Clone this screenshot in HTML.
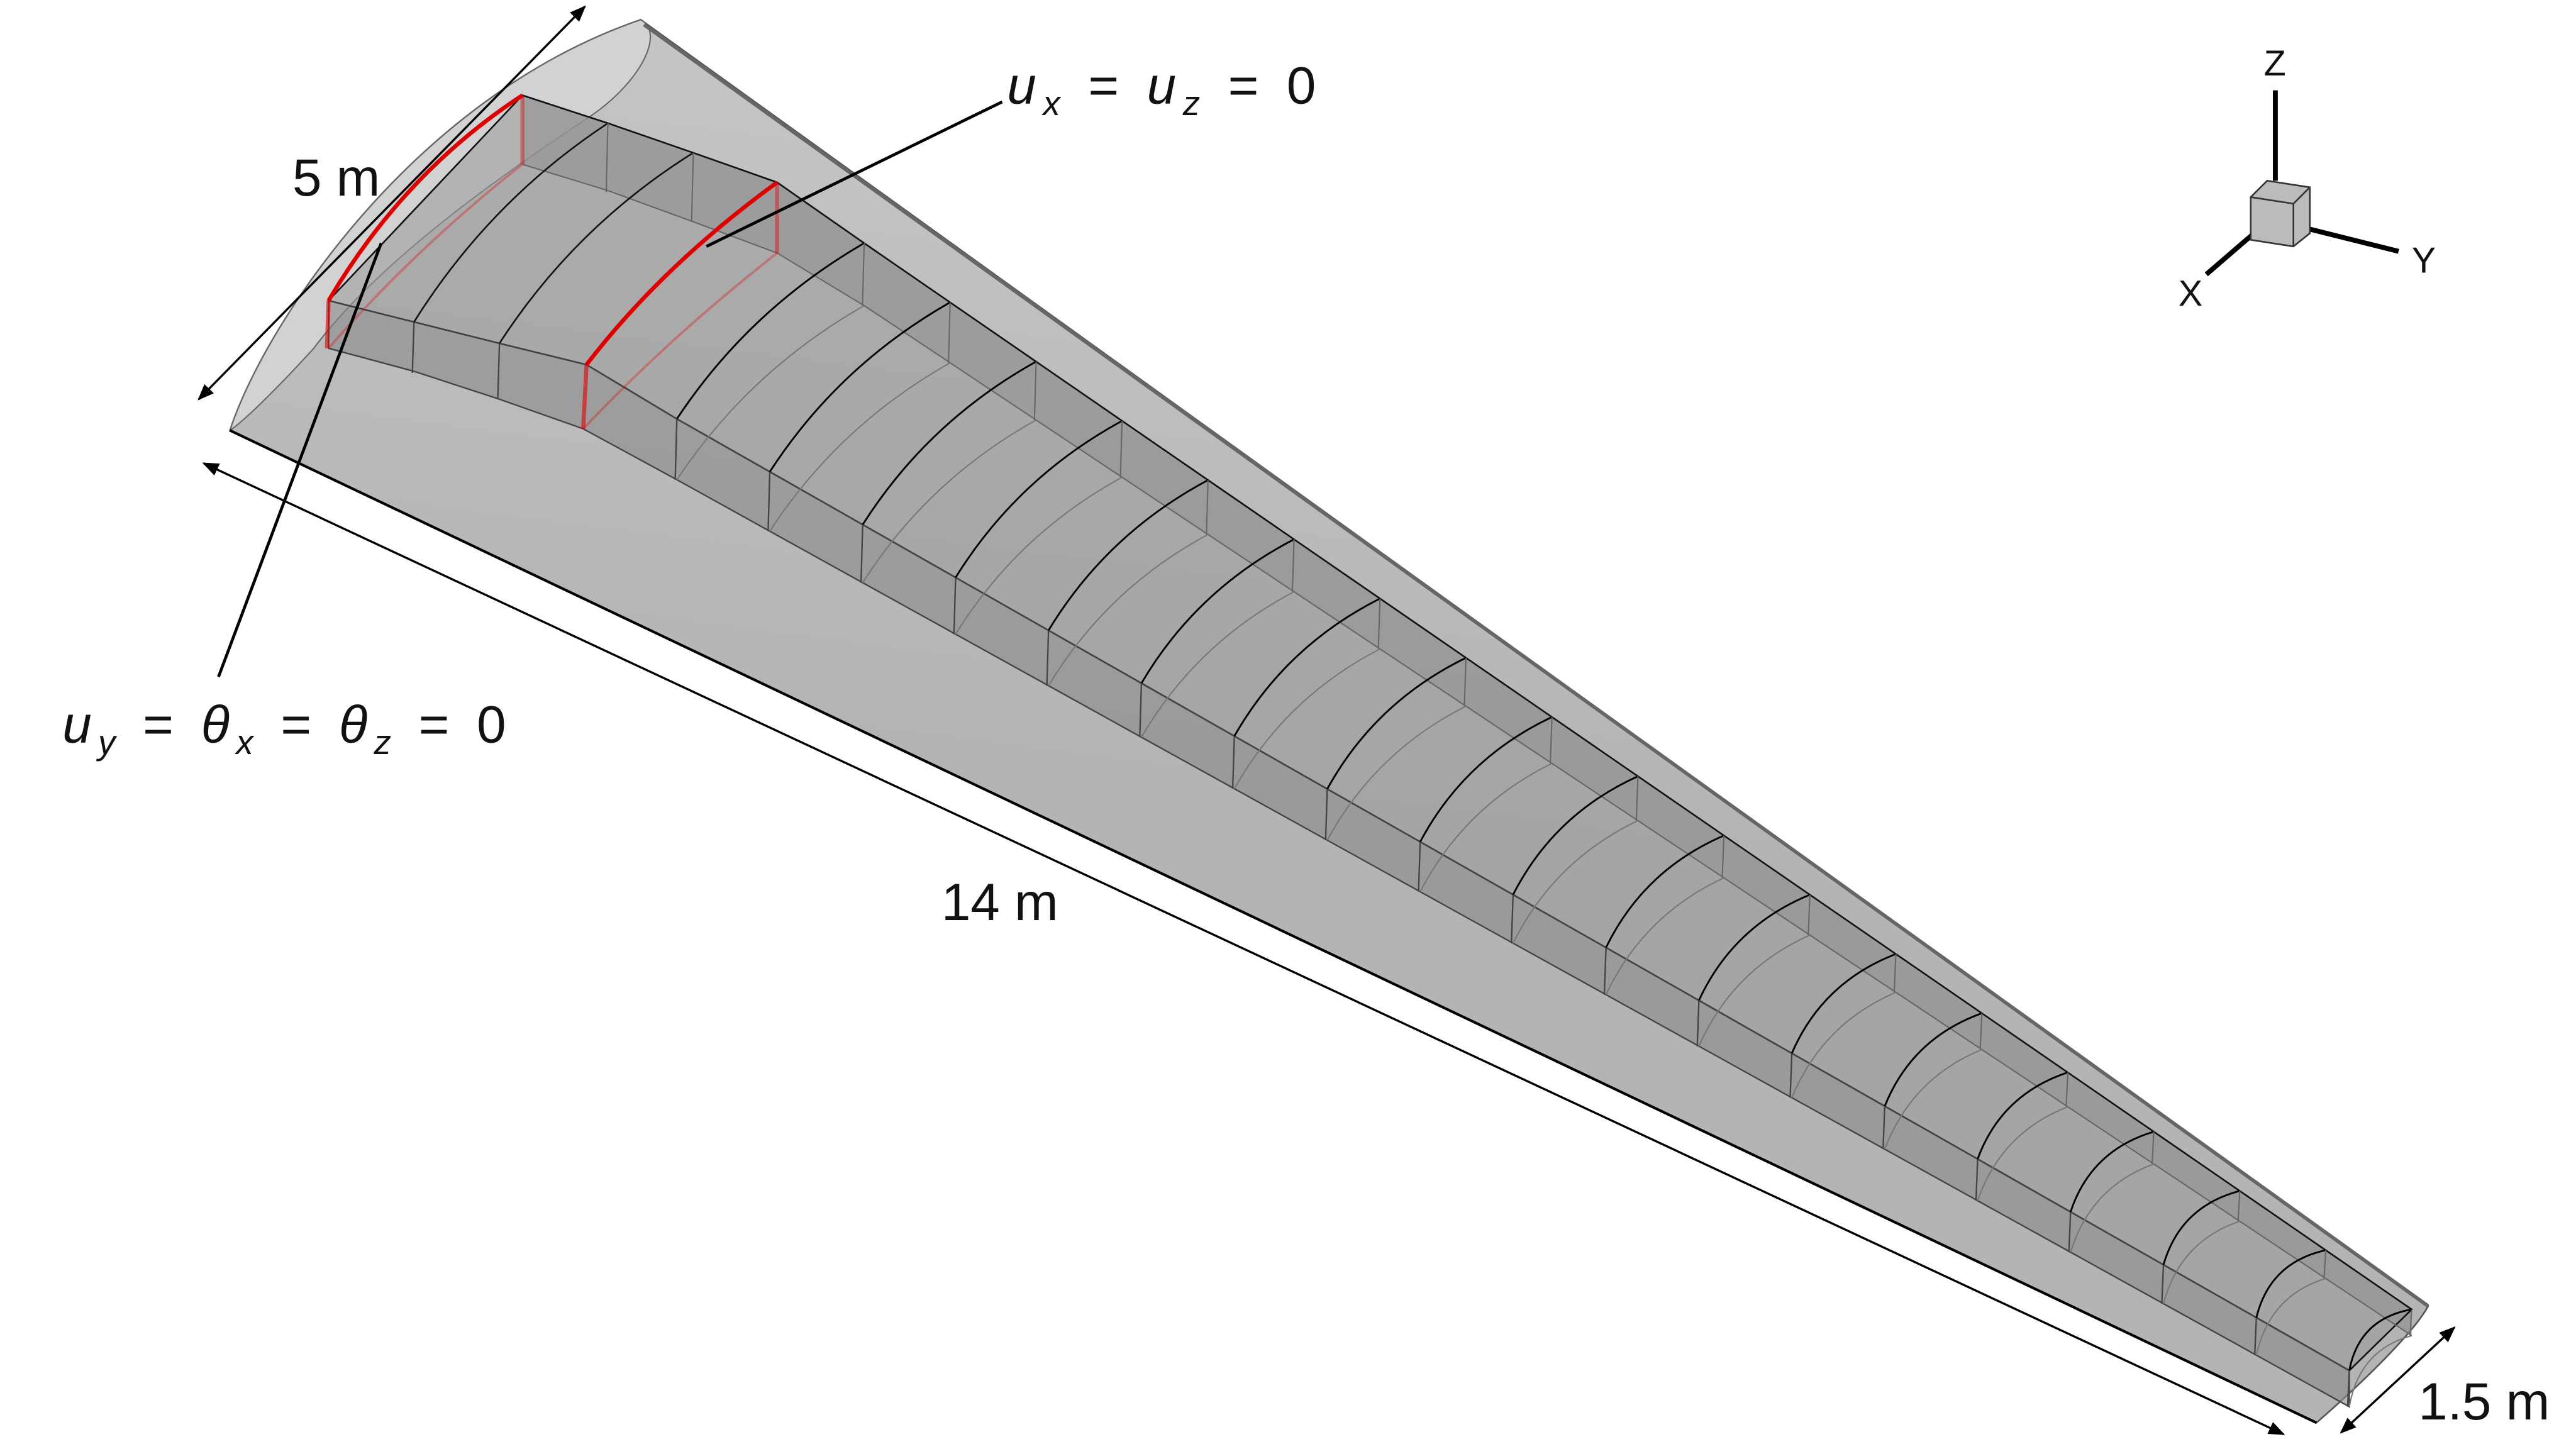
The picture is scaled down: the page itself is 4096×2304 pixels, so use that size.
<!DOCTYPE html>
<html><head><meta charset="utf-8"><style>
html,body{margin:0;padding:0;background:#fff;}
svg{display:block;}
text{font-family:"Liberation Sans",sans-serif;fill:#111;}
.it{font-style:italic;}
</style></head><body>
<svg id="fig" width="4096" height="2304" viewBox="0 0 1568 882" preserveAspectRatio="none" xmlns="http://www.w3.org/2000/svg">
<defs>
<linearGradient id="skin" x1="0.3" y1="0" x2="0.2" y2="0.5">
<stop offset="0" stop-color="#c6c6c6"/><stop offset="1" stop-color="#b4b4b4"/></linearGradient>
<marker id="ah" markerWidth="10" markerHeight="8" refX="9" refY="4" orient="auto-start-reverse" markerUnits="userSpaceOnUse"><path d="M0,0 L10,4 L0,8 z" fill="#000"/></marker>
</defs>
<g>
<path d="M140,262 C160,200 250,60 390,12 L1478,795 C1470,810 1440,840 1410,866 Z" fill="url(#skin)" stroke="#555" stroke-width="1"/>
<path d="M140,262 C160,200 250,60 390,12 C405,20 390,50 359,71 C300,110 230,160 191,212 C170,235 150,255 140,262 Z" fill="#d2d2d2" stroke="#666" stroke-width="0.8"/>
<line x1="392" y1="15" x2="1478" y2="795" stroke="#666" stroke-width="2.2"/>
<line x1="140" y1="262" x2="1410" y2="866" stroke="#000" stroke-width="1.6"/>
</g>
<g id="box"></g>
<g stroke="#e00000" stroke-width="2.5" fill="none">
<path d="M200,183 Q246,105 318,58"/><line x1="200" y1="183" x2="199" y2="212" opacity="0.6"/><line x1="318" y1="58" x2="318" y2="100" opacity="0.4"/>
<path d="M200,212 Q252,152 318,100" stroke-width="1.5" opacity="0.3"/>
<path d="M357,222 Q403,162 473,111"/><line x1="357" y1="222" x2="355" y2="261" opacity="0.6"/><line x1="473" y1="111" x2="473" y2="154" opacity="0.4"/>
<path d="M355,261 Q408,205 473,154" stroke-width="1.5" opacity="0.3"/>
</g>
<g stroke="#000" stroke-width="1.3">
<line x1="121" y1="243" x2="356" y2="4" marker-start="url(#ah)" marker-end="url(#ah)"/>
<line x1="124" y1="282" x2="1390" y2="873" marker-start="url(#ah)" marker-end="url(#ah)"/>
<line x1="1425" y1="872" x2="1494" y2="808" marker-start="url(#ah)" marker-end="url(#ah)"/>
<line x1="430" y1="150" x2="610" y2="62" stroke-width="1.8"/>
<line x1="232" y1="148" x2="133" y2="412" stroke-width="1.8"/>
</g>
<text x="178" y="119" font-size="32">5 m</text>
<text x="573" y="560" font-size="32">14 m</text>
<text x="1472" y="864" font-size="32">1.5 m</text>
<text x="613" y="63" font-size="32" textLength="188" lengthAdjust="spacing"><tspan class="it">u</tspan><tspan font-size="21" class="it" dy="7">x</tspan><tspan dy="-7"> = </tspan><tspan class="it">u</tspan><tspan font-size="21" class="it" dy="7">z</tspan><tspan dy="-7"> = 0</tspan></text>
<text x="38" y="452" font-size="32" textLength="270" lengthAdjust="spacing"><tspan class="it">u</tspan><tspan font-size="21" class="it" dy="7">y</tspan><tspan dy="-7"> = </tspan><tspan class="it">θ</tspan><tspan font-size="21" class="it" dy="7">x</tspan><tspan dy="-7"> = </tspan><tspan class="it">θ</tspan><tspan font-size="21" class="it" dy="7">z</tspan><tspan dy="-7"> = 0</tspan></text>
<g>
<line x1="1385" y1="110" x2="1385" y2="55" stroke="#000" stroke-width="3"/>
<line x1="1400" y1="138" x2="1460" y2="153" stroke="#000" stroke-width="3"/>
<line x1="1372" y1="142" x2="1343" y2="167" stroke="#000" stroke-width="3"/>
<path d="M1370,120 L1380,110 L1406,114 L1406,142 L1396,150 L1370,146 Z" fill="#bbb" stroke="#333"/>
<path d="M1370,120 L1396,124 L1406,114 M1396,124 L1396,150" fill="none" stroke="#333"/>
<text x="1378" y="46" font-size="22">Z</text>
<text x="1468" y="166" font-size="22">Y</text>
<text x="1326" y="186" font-size="22">X</text>
</g>
</svg>
<script>
const ribCount = [19];
(function(){
const box = document.getElementById('box');
const NS = 'http://www.w3.org/2000/svg';
function mk(tag, attrs){const e=document.createElementNS(NS,tag);for(const k in attrs)e.setAttribute(k,attrs[k]);box.appendChild(e);return e;}
const n = ribCount[0];
const B = 13;
const t = i => i/(n-1);
const fT = i => {const x=412+i*(1430-412)/(n-1);return [x,255+0.569*(x-412)];};
const fH = i => 37-15*t(i);
const rT = i => {const x=526+i*(1468-526)/(n-1);return [x,148+0.689*(x-526)];};
const rH = i => 38-22*t(i);
let rw='M318,58 L370,75 L422,93 L473,111 ';
for(let i=0;i<n;i++){const p=rT(i);rw+='L'+p[0]+','+p[1]+' ';}
for(let i=n-1;i>=0;i--){const p=rT(i);rw+='L'+p[0]+','+(p[1]+rH(i))+' ';}
rw+='L473,154 L422,135 L370,116 L318,100 Z';
let el=mk('path',{d:rw,fill:'#8a8a8a','fill-opacity':'0.6',stroke:'none'});


let topPath = 'M200,183 L252,196 L304,209 L357,222 ';
for(let i=0;i<n;i++){const p=fT(i);topPath+='L'+p[0]+','+p[1]+' ';}
for(let i=n-1;i>=0;i--){const p=rT(i);topPath+='L'+p[0]+','+p[1]+' ';}
topPath+='L473,111 L422,93 L370,75 L318,58 Z';
el=mk('path',{d:topPath,fill:'#999','fill-opacity':'0.55',stroke:'#111','stroke-width':'1'});


let face='M200,183 L252,196 L304,209 L357,222 ';
for(let i=0;i<n;i++){const p=fT(i);face+='L'+p[0]+','+p[1]+' ';}
for(let i=n-1;i>=0;i--){const p=fT(i);face+='L'+p[0]+','+(p[1]+fH(i))+' ';}
face+='L355,261 L304,243 L252,226 L200,212 Z';
el=mk('path',{d:face,fill:'#888','fill-opacity':'0.6',stroke:'#444','stroke-width':'0.9'});


let rb='M318,100 L370,116 L422,135 L473,154 ';
for(let i=0;i<n;i++){const p=rT(i);rb+='L'+p[0]+','+(p[1]+rH(i))+' ';}
el=mk('path',{d:rb,fill:'none',stroke:'#666','stroke-width':'0.8'});


const rootF=[[252,196],[304,209]], rootR=[[370,75],[422,93]];
for(let k=0;k<2;k++){
 const a=rootF[k], b=rootR[k];
 el=mk('path',{d:'M'+a[0]+','+a[1]+' Q'+((a[0]+b[0])/2-B)+','+((a[1]+b[1])/2-B)+' '+b[0]+','+b[1],fill:'none',stroke:'#111','stroke-width':'1'});
 
 
 el=mk('line',{x1:a[0],y1:a[1],x2:a[0]-1,y2:a[1]+31+3*k,stroke:'#444','stroke-width':'0.9'});
 
 
 el=mk('line',{x1:b[0],y1:b[1],x2:b[0]-1,y2:b[1]+42,stroke:'#666','stroke-width':'0.8'});
 
 
}
for(let i=0;i<n;i++){
 const a=fT(i), b=rT(i), ha=fH(i), hb=rH(i);
 el=mk('path',{d:'M'+a[0]+','+(a[1]+ha)+' Q'+((a[0]+b[0])/2-B)+','+((a[1]+b[1]+ha+hb)/2-B)+' '+b[0]+','+(b[1]+hb),fill:'none',stroke:'#777','stroke-width':'0.8'});
 
 
 el=mk('path',{d:'M'+a[0]+','+a[1]+' Q'+((a[0]+b[0])/2-B)+','+((a[1]+b[1])/2-B)+' '+b[0]+','+b[1],fill:'none',stroke:'#000','stroke-width':'1.1'});
 
 
 el=mk('line',{x1:a[0],y1:a[1],x2:a[0]-1,y2:a[1]+ha,stroke:'#444','stroke-width':'0.9'});
 
 
 el=mk('line',{x1:b[0],y1:b[1],x2:b[0]-1,y2:b[1]+hb,stroke:'#666','stroke-width':'0.8'});
 
 
}
})();
</script>
</body></html>
